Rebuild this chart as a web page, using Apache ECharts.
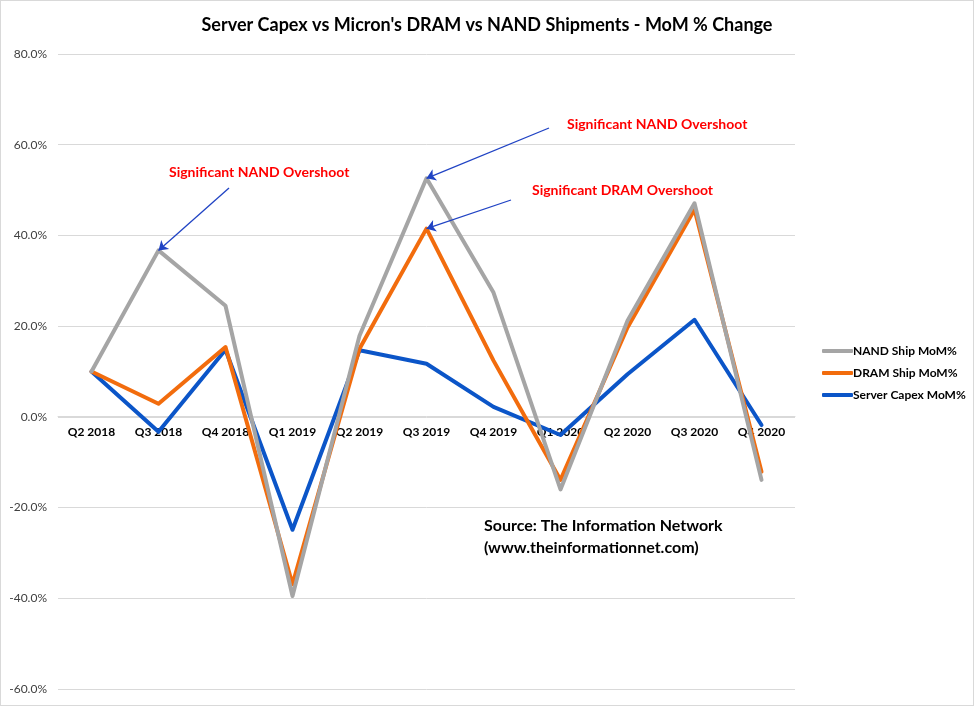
<!DOCTYPE html>
<html>
<head>
<meta charset="utf-8">
<script src="https://cdn.jsdelivr.net/npm/echarts@6/dist/echarts.min.js"></script>
<style>
  html, body { margin: 0; padding: 0; background: #fff; }
  #chart { width: 972px; height: 704px; border: 1px solid #d9d9d9; }
</style>
</head>
<body>
<div id="chart"></div>
<script>
const quarters = ['Q2 2018', 'Q3 2018', 'Q4 2018', 'Q1 2019', 'Q2 2019', 'Q3 2019',
  'Q4 2019', 'Q1 2020', 'Q2 2020', 'Q3 2020', 'Q4 2020'];

// MoM % change
const nandShip = [10.0, 36.7, 24.5, -39.5, 17.9, 52.6, 27.4, -16.0, 21.2, 47.1, -13.9];
const dramShip = [10.0, 2.9, 15.4, -36.9, 15.0, 41.5, 12.4, -13.9, 19.7, 45.7, -12.1];
const serverCapex = [10.0, -3.3, 14.8, -24.9, 14.7, 11.7, 2.2, -4.0, 9.4, 21.4, -1.8];

const yTicks = [-60, -40, -20, 0, 20, 40, 60, 80];

const font = 'Lato, "Liberation Sans", sans-serif';
const arrowColor = '#2043c4';

const gridTop = 53, gridBottom = 16, chartHeight = 706;
// x axis sits on the 0% line
const plotHeight = chartHeight - gridTop - gridBottom;
const zeroOffset = -plotHeight * (0 - yTicks[0]) / (yTicks[yTicks.length - 1] - yTicks[0]);

const chart = echarts.init(document.getElementById('chart'));

function arrow(fromX, fromY, cat, val) {
  return [{ x: fromX, y: fromY }, { coord: [cat, val] }];
}

const lineSeries = (name, data, color, marks) => ({
  name: name,
  type: 'line',
  data: data,
  symbol: 'none',
  smooth: false,
  lineStyle: { width: 4, color: color, cap: 'round', join: 'round' },
  itemStyle: { color: color },
  emphasis: { disabled: true },
  markLine: marks ? {
    silent: true,
    symbol: ['none', 'arrow'],
    symbolSize: 9,
    label: { show: false },
    lineStyle: { color: arrowColor, width: 1.3, type: 'solid' },
    data: marks
  } : undefined
});

const option = {
  animation: false,
  backgroundColor: '#fff',
  textStyle: { fontFamily: font },
  title: {
    text: "Server Capex vs Micron's DRAM vs NAND Shipments - MoM % Change",
    left: 'center',
    top: 10,
    textStyle: { fontFamily: font, fontSize: 18, fontWeight: 'bold', color: '#000' }
  },
  legend: {
    data: ['NAND Ship MoM%', 'DRAM Ship MoM%', 'Server Capex MoM%'],
    orient: 'vertical',
    left: 816,
    top: 339,
    icon: 'roundRect',
    itemWidth: 31,
    itemHeight: 4,
    itemGap: 10,
    textStyle: { fontFamily: font, fontSize: 12, fontWeight: 'bold', color: '#000', padding: [0, 0, 0, -5] }
  },
  grid: { left: 57, right: 178, top: gridTop, bottom: gridBottom, containLabel: false },
  xAxis: {
    type: 'category',
    data: quarters,
    boundaryGap: true,
    offset: zeroOffset,
    axisLine: { onZero: false, lineStyle: { color: '#d9d9d9', width: 1 } },
    axisTick: { show: false },
    axisLabel: { color: '#000', fontSize: 12, fontWeight: 'bold', margin: 10, fontFamily: font }
  },
  yAxis: {
    type: 'value',
    min: yTicks[0],
    max: yTicks[yTicks.length - 1],
    interval: 20,
    axisLine: { show: false },
    axisTick: { show: false },
    splitLine: { lineStyle: { color: '#d9d9d9', width: 1 } },
    axisLabel: {
      color: '#404040', fontSize: 12, margin: 11, fontFamily: font,
      formatter: v => v.toFixed(1) + '%'
    }
  },
  series: [
    lineSeries('Server Capex MoM%', serverCapex, '#0b55c8'),
    lineSeries('DRAM Ship MoM%', dramShip, '#f26c0d', [
      arrow(510, 199, quarters[5], dramShip[5])
    ]),
    lineSeries('NAND Ship MoM%', nandShip, '#a5a5a5', [
      arrow(228, 187, quarters[1], nandShip[1]),
      arrow(548, 127, quarters[5], nandShip[5])
    ])
  ],
  graphic: [
    {
      type: 'text', left: 168, top: 164,
      style: { text: 'Significant NAND Overshoot', fill: '#ff0000', font: 'bold 14px ' + font }
    },
    {
      type: 'text', left: 566, top: 116,
      style: { text: 'Significant NAND Overshoot', fill: '#ff0000', font: 'bold 14px ' + font }
    },
    {
      type: 'text', left: 531, top: 182,
      style: { text: 'Significant DRAM Overshoot', fill: '#ff0000', font: 'bold 14px ' + font }
    },
    {
      type: 'text', left: 483, top: 514,
      style: {
        text: 'Source: The Information Network\n(www.theinformationnet.com)',
        fill: '#000', font: 'bold 16px ' + font, lineHeight: 22
      }
    }
  ]
};

chart.setOption(option);
window.onresize = function () {
  chart.resize();
};
</script>
</body>
</html>
